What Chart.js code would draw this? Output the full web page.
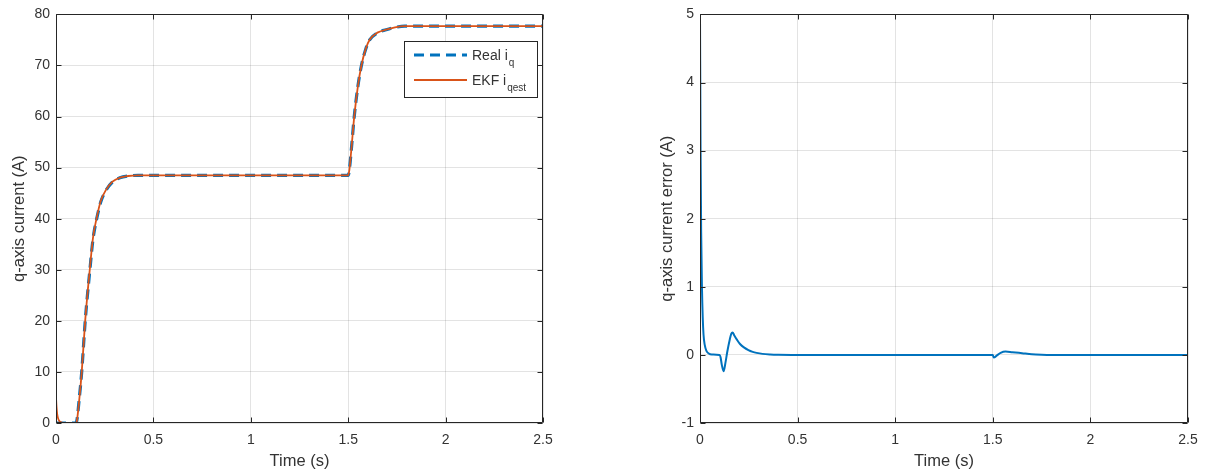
<!DOCTYPE html>
<html><head><meta charset="utf-8">
<script src="https://cdn.jsdelivr.net/npm/chart.js@4.4.1/dist/chart.umd.min.js"></script>
<style>
html,body{margin:0;padding:0;background:#fff;}
#wrap{position:relative;width:1221px;height:474px;overflow:hidden;}
canvas{position:absolute;top:0;}
#c1{left:0;}
#c2{left:610px;}
</style></head><body>
<div id="wrap"><canvas id="c1" width="610" height="474"></canvas><canvas id="c2" width="611" height="474"></canvas></div>
<script>
// ---- data ----
const timeTicks = [0, 0.5, 1, 1.5, 2, 2.5];
const timeTickLabels = ['0', '0.5', '1', '1.5', '2', '2.5'];
const currentTicks = [0, 10, 20, 30, 40, 50, 60, 70, 80];
const currentTickLabels = ['0', '10', '20', '30', '40', '50', '60', '70', '80'];
const errorTicks = [-1, 0, 1, 2, 3, 4, 5];
const errorTickLabels = ['-1', '0', '1', '2', '3', '4', '5'];

const realT  = [0, 0.1, 0.106, 0.12, 0.132, 0.15, 0.174, 0.19, 0.209, 0.23, 0.256, 0.29, 0.328, 0.37, 0.42, 1.5, 1.506, 1.516, 1.531, 1.55, 1.568, 1.59, 1.61, 1.65, 1.695, 1.74, 1.79, 2.5];
const realIq = [0, 0, 0.3, 5, 10, 20, 30, 36, 40, 43.3, 45.5, 47.2, 48.0, 48.35, 48.5, 48.5, 49.6, 53.5, 60, 66, 70, 73.2, 75, 76.4, 77.0, 77.45, 77.7, 77.7];

const ekfT   = [0, 0.003, 0.006, 0.01, 0.015, 0.02, 0.03, 0.05, 0.1, 0.106, 0.12, 0.132, 0.15, 0.174, 0.19, 0.209, 0.23, 0.256, 0.29, 0.328, 0.37, 0.42, 1.5, 1.506, 1.516, 1.531, 1.55, 1.568, 1.59, 1.61, 1.65, 1.695, 1.74, 1.79, 2.5];
const ekfIq  = [5.1, 3.0, 1.8, 1.0, 0.5, 0.25, 0.08, 0.02, 0, 0.25, 4.8, 9.9, 20.1, 30.3, 36.3, 40.2, 43.5, 45.6, 47.25, 48.03, 48.36, 48.5, 48.5, 49.55, 53.5, 60, 66, 70.05, 73.25, 75.04, 76.43, 77.02, 77.46, 77.7, 77.7];

const errT   = [0, 0.003, 0.006, 0.01, 0.014, 0.018, 0.024, 0.033, 0.045, 0.06, 0.1, 0.105, 0.112, 0.121, 0.13, 0.14, 0.152, 0.16, 0.167, 0.175, 0.19, 0.205, 0.225, 0.248, 0.27, 0.29, 0.32, 0.36, 0.4, 0.5, 1.5, 1.505, 1.52, 1.54, 1.565, 1.6, 1.65, 1.7, 1.75, 1.8, 2.5];
const errIq  = [5, 3, 1.8, 1.0, 0.55, 0.3, 0.15, 0.06, 0.02, 0.005, 0, -0.03, -0.15, -0.24, -0.12, 0.05, 0.22, 0.31, 0.33, 0.29, 0.22, 0.16, 0.11, 0.07, 0.045, 0.03, 0.015, 0.006, 0.002, 0, 0, -0.04, -0.01, 0.03, 0.05, 0.04, 0.025, 0.01, 0.003, 0, 0];

const seriesNames = ['Real iq', 'EKF iqest'];
const legendMain = ['Real i', 'EKF i'];
const legendSub = ['q', 'qest'];

// ---- styling ----
const FONT = '"Liberation Sans", Arial, Helvetica, sans-serif';
const DARK = '#262626';
const TXT = '#333333';
const GRID = 'rgba(38,38,38,0.13)';
const BLUE = '#0072BD';
const ORANGE = '#D95319';

function pts(xs, ys) { return xs.map((x, i) => ({x: x, y: ys[i]})); }

const boxPlugin = {
  id: 'matlabBox',
  afterDatasetsDraw(chart) {
    const {ctx, chartArea: a, scales: {x, y}} = chart;
    ctx.save();
    ctx.strokeStyle = DARK;
    ctx.lineWidth = 1;
    ctx.beginPath();
    const L = Math.round(a.left) + 0.5, R = Math.round(a.right) - 0.5;
    const T = Math.round(a.top) + 0.5, B = Math.round(a.bottom) - 0.5;
    x.ticks.forEach(t => {
      const px = Math.round(x.getPixelForValue(t.value)) + 0.5;
      ctx.moveTo(px, B); ctx.lineTo(px, B - 5);
      ctx.moveTo(px, T); ctx.lineTo(px, T + 5);
    });
    y.ticks.forEach(t => {
      const py = Math.round(y.getPixelForValue(t.value)) + 0.5;
      ctx.moveTo(L, py); ctx.lineTo(L + 5, py);
      ctx.moveTo(R, py); ctx.lineTo(R - 5, py);
    });
    ctx.moveTo(L, T); ctx.lineTo(R, T); ctx.lineTo(R, B); ctx.lineTo(L, B); ctx.closePath();
    ctx.stroke();
    ctx.restore();
  }
};

const legendPlugin = {
  id: 'subLegend',
  afterDraw(chart) {
    const ctx = chart.ctx;
    const bx = 404.5, by = 41.5, bw = 133, bh = 56;
    ctx.save();
    ctx.fillStyle = '#fff';
    ctx.fillRect(bx, by, bw, bh);
    ctx.strokeStyle = DARK; ctx.lineWidth = 1;
    ctx.strokeRect(bx, by, bw, bh);
    const ds = chart.data.datasets;
    const rows = [55, 80];
    const order = [1, 0]; // dataset index per row (Real first)
    rows.forEach((ry, r) => {
      const d = ds[order[r]];
      ctx.beginPath();
      ctx.strokeStyle = d.borderColor;
      ctx.lineWidth = d.borderWidth;
      ctx.setLineDash(d.borderDash || []);
      ctx.moveTo(414, ry); ctx.lineTo(467, ry);
      ctx.stroke();
      ctx.setLineDash([]);
      ctx.fillStyle = TXT;
      ctx.textBaseline = 'alphabetic';
      ctx.font = '14px ' + FONT;
      ctx.fillText(legendMain[r], 472, ry + 4.5);
      const w = ctx.measureText(legendMain[r]).width;
      ctx.font = '10px ' + FONT;
      ctx.fillText(legendSub[r], 472 + w + 1, ry + 10.5);
    });
    ctx.restore();
  }
};

function makeOptions(yMin, yMax, yTicks, yTickLabels, yTitle, pad, yWidth, yTitlePad) {
  return {
    responsive: false,
    animation: false,
    devicePixelRatio: 1,
    layout: {padding: pad},
    plugins: {legend: {display: false}, tooltip: {enabled: false}},
    elements: {point: {radius: 0}},
    scales: {
      x: {
        type: 'linear', min: 0, max: 2.5,
        afterBuildTicks: s => { s.ticks = timeTicks.map(v => ({value: v})); },
        afterFit: s => { s.height = 51; },
        ticks: {
          color: TXT, font: {family: FONT, size: 14}, padding: 9, maxRotation: 0,
          callback: v => timeTickLabels[timeTicks.indexOf(v)]
        },
        grid: {color: GRID, drawTicks: false, lineWidth: 1},
        border: {display: false},
        title: {display: true, text: 'Time (s)', color: TXT, font: {family: FONT, size: 16.5}, padding: {top: 0, bottom: 3}}
      },
      y: {
        type: 'linear', min: yMin, max: yMax,
        afterBuildTicks: s => { s.ticks = yTicks.map(v => ({value: v})); },
        afterFit: s => { s.width = yWidth; },
        ticks: {
          color: TXT, font: {family: FONT, size: 14}, padding: 6,
          callback: v => yTickLabels[yTicks.indexOf(v)]
        },
        grid: {color: GRID, drawTicks: false, lineWidth: 1},
        border: {display: false},
        title: {display: true, text: yTitle, color: TXT, font: {family: FONT, size: 16.5}, padding: {top: yTitlePad, bottom: 0}}
      }
    }
  };
}

new Chart(document.getElementById('c1'), {
  type: 'line',
  data: {
    datasets: [
      {label: seriesNames[1], data: pts(ekfT, ekfIq), borderColor: ORANGE, borderWidth: 1.8, fill: false, cubicInterpolationMode: 'monotone', order: 1},
      {label: seriesNames[0], data: pts(realT, realIq), borderColor: BLUE, borderWidth: 3.2, borderDash: [10, 6], fill: false, cubicInterpolationMode: 'monotone', order: 2}
    ]
  },
  options: makeOptions(0, 80, currentTicks, currentTickLabels, 'q-axis current (A)', {top: 10, right: 67, left: 0, bottom: 0}, 56, 10),
  plugins: [boxPlugin, legendPlugin]
});

new Chart(document.getElementById('c2'), {
  type: 'line',
  data: {
    datasets: [
      {label: 'q-axis current error', data: pts(errT, errIq), borderColor: BLUE, borderWidth: 2, fill: false, cubicInterpolationMode: 'monotone'}
    ]
  },
  options: makeOptions(-1, 5, errorTicks, errorTickLabels, 'q-axis current error (A)', {top: 10, right: 33, left: 0, bottom: 0}, 90, 48),
  plugins: [boxPlugin]
});
</script>
</body></html>
